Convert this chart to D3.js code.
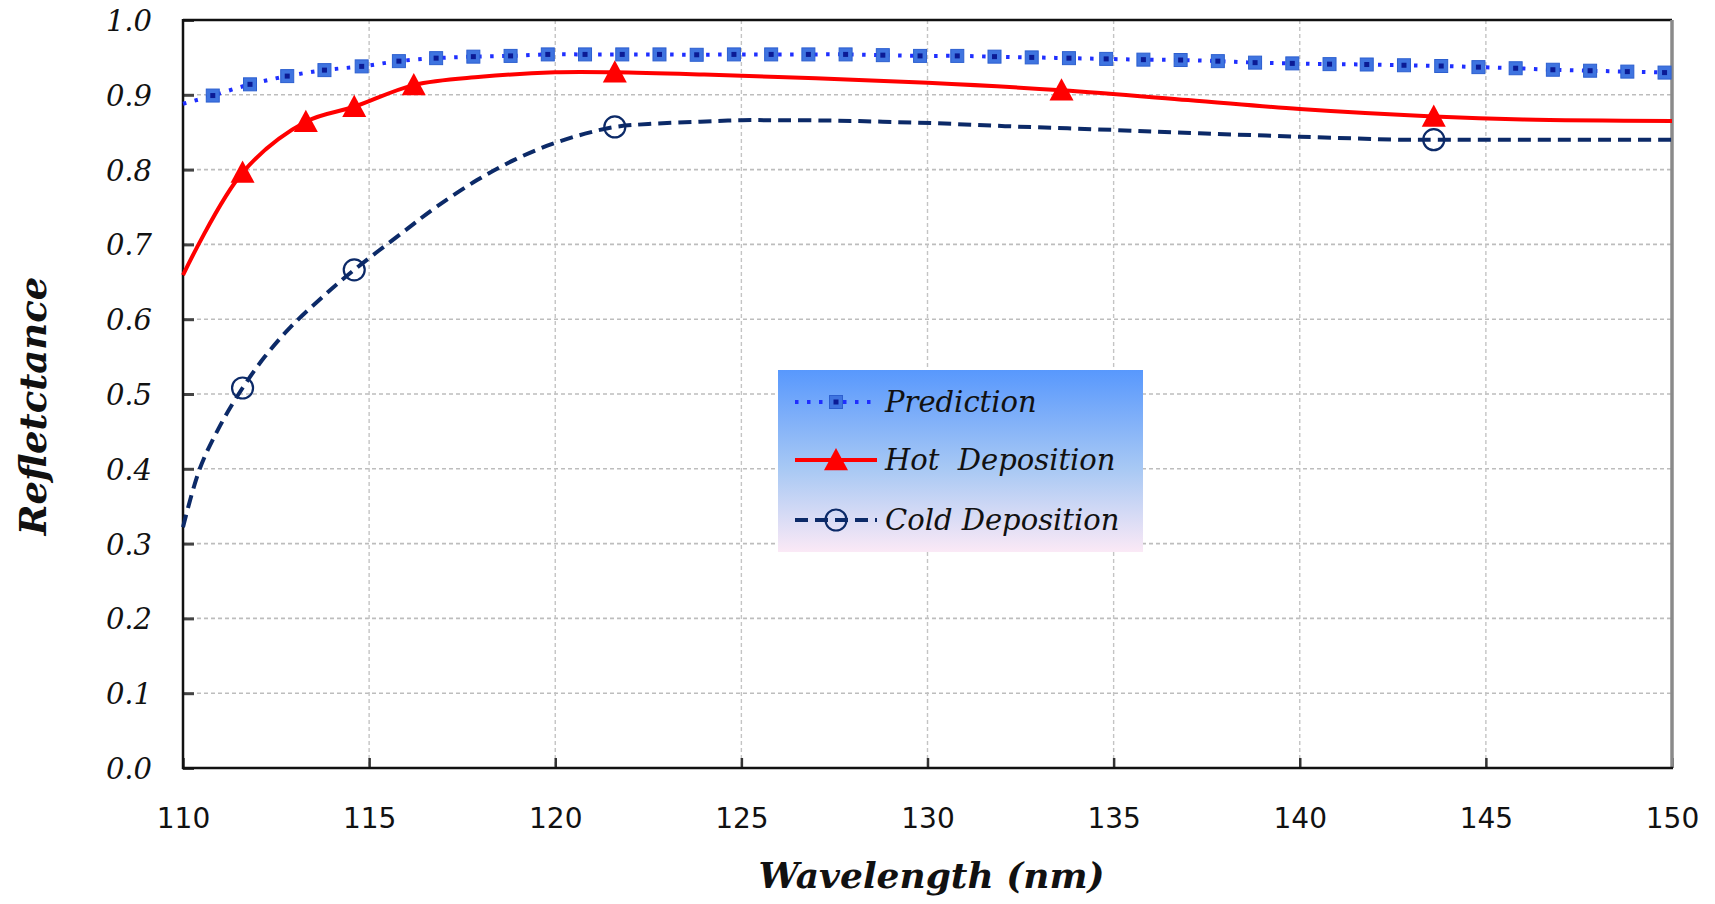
<!DOCTYPE html>
<html>
<head>
<meta charset="utf-8">
<script src="https://cdn.jsdelivr.net/npm/d3@7"></script>
<style>
  html, body { margin: 0; padding: 0; background: #fff; }
  svg { display: block; }
  .ytick text { font-family: "DejaVu Serif", serif; font-style: italic; font-size: 29px; fill: #111; }
  .xtick text { font-family: "DejaVu Sans", sans-serif; font-size: 28px; fill: #111; }
  .title { font-family: "DejaVu Serif", serif; font-style: italic; font-weight: bold; fill: #111; }
  .legend text { font-family: "DejaVu Serif", serif; font-style: italic; font-size: 29px; fill: #111; white-space: pre; }
</style>
</head>
<body>
<svg id="chart" width="1715" height="904"></svg>
<script>
// Axis ticks
const xTicks = [110, 115, 120, 125, 130, 135, 140, 145, 150];
const yTicks = [0.0, 0.1, 0.2, 0.3, 0.4, 0.5, 0.6, 0.7, 0.8, 0.9, 1.0];

// Prediction: curve samples (with end points) and the plotted markers
const predLineWl = [110.0, 110.8, 111.8, 112.8, 113.8, 114.8, 115.8, 116.8, 117.8, 118.8, 119.8,
  120.8, 121.8, 122.8, 123.8, 124.8, 125.8, 126.8, 127.8, 128.8, 129.8,
  130.8, 131.8, 132.8, 133.8, 134.8, 135.8, 136.8, 137.8, 138.8, 139.8,
  140.8, 141.8, 142.8, 143.8, 144.8, 145.8, 146.8, 147.8, 148.8, 149.8, 150.0];
const predLineR = [0.888, 0.899, 0.914, 0.925, 0.933, 0.938, 0.945, 0.949, 0.951, 0.952, 0.954,
  0.954, 0.954, 0.954, 0.9535, 0.954, 0.954, 0.954, 0.954, 0.953, 0.952,
  0.952, 0.951, 0.950, 0.949, 0.948, 0.947, 0.9465, 0.945, 0.943, 0.942,
  0.941, 0.9405, 0.9395, 0.9385, 0.937, 0.9355, 0.9335, 0.9322, 0.931, 0.9297, 0.929];
const predMarkWl = [110.8, 111.8, 112.8, 113.8, 114.8, 115.8, 116.8, 117.8, 118.8, 119.8,
  120.8, 121.8, 122.8, 123.8, 124.8, 125.8, 126.8, 127.8, 128.8, 129.8,
  130.8, 131.8, 132.8, 133.8, 134.8, 135.8, 136.8, 137.8, 138.8, 139.8,
  140.8, 141.8, 142.8, 143.8, 144.8, 145.8, 146.8, 147.8, 148.8, 149.8];
const predMarkR = [0.899, 0.914, 0.925, 0.933, 0.938, 0.945, 0.949, 0.951, 0.952, 0.954,
  0.954, 0.954, 0.954, 0.9535, 0.954, 0.954, 0.954, 0.954, 0.953, 0.952,
  0.952, 0.951, 0.950, 0.949, 0.948, 0.947, 0.9465, 0.945, 0.943, 0.942,
  0.941, 0.9405, 0.9395, 0.9385, 0.937, 0.9355, 0.9335, 0.9322, 0.931, 0.9297];

// Hot deposition
const hotLineWl = [110.0, 111.6, 113.3, 114.6, 116.2, 118.0, 120.0, 121.6, 124.0, 127.0, 130.0, 133.6, 137.0, 140.0, 143.6, 146.0, 150.0];
const hotLineR  = [0.659, 0.796, 0.864, 0.884, 0.913, 0.924, 0.930, 0.930, 0.927, 0.922, 0.916, 0.906, 0.893, 0.881, 0.871, 0.867, 0.865];
const hotMarkWl = [111.6, 113.3, 114.6, 116.2, 121.6, 133.6, 143.6];
const hotMarkR  = [0.796, 0.864, 0.884, 0.913, 0.930, 0.906, 0.871];

// Cold deposition
const coldLineWl = [110.0, 110.45, 111.0, 111.6, 112.2, 112.9, 113.8, 114.6, 115.9, 116.8, 117.9, 118.9, 119.9, 120.8, 121.6,
  122.5, 123.9, 125.0, 126.1, 127.5, 128.8, 130.2, 132.4, 135.0, 137.3, 140.0, 142.7, 143.6, 146.0, 150.0];
const coldLineR  = [0.322, 0.400, 0.458, 0.508, 0.550, 0.590, 0.632, 0.666, 0.716, 0.750, 0.786, 0.813, 0.834, 0.848, 0.857,
  0.861, 0.864, 0.866, 0.866, 0.8655, 0.864, 0.862, 0.8575, 0.853, 0.8485, 0.844, 0.840, 0.840, 0.840, 0.840];
const coldMarkWl = [111.6, 114.6, 121.6, 143.6];
const coldMarkR  = [0.508, 0.666, 0.857, 0.840];

const seriesNames = ["Prediction", "Hot  Deposition", "Cold Deposition"];

const svg = d3.select("#chart");
const plot = { left: 183, right: 1672, top: 20, bottom: 768 };

const x = d3.scaleLinear().domain([110, 150]).range([plot.left, plot.right]);
const y = d3.scaleLinear().domain([0, 1]).range([plot.bottom, plot.top]);

const colors = { pred: "#1f2fff", predMark: "#3f74e0", hot: "#ff0000", cold: "#0c2a68" };

// Grid
const grid = svg.append("g");
grid.selectAll("line.h").data(yTicks.filter(v => v > 0 && v < 1)).join("line")
  .attr("x1", plot.left).attr("x2", plot.right)
  .attr("y1", d => y(d)).attr("y2", d => y(d))
  .attr("stroke", "#bdbdbd").attr("stroke-width", 1.6).attr("stroke-dasharray", "4 3");
grid.selectAll("line.v").data(xTicks.filter(v => v > 110 && v < 150)).join("line")
  .attr("y1", plot.top).attr("y2", plot.bottom)
  .attr("x1", d => x(d)).attr("x2", d => x(d))
  .attr("stroke", "#c4c4c4").attr("stroke-width", 1.4).attr("stroke-dasharray", "4 3");

// Axes
const yAxis = d3.axisLeft(y).tickValues(yTicks).tickFormat(d3.format(".1f")).tickSizeInner(-11).tickSizeOuter(0).tickPadding(31);
const gy = svg.append("g").attr("class", "ytick").attr("transform", `translate(${plot.left},0)`).call(yAxis);
gy.select(".domain").remove();
gy.selectAll(".tick line").attr("stroke", "#444").attr("stroke-width", 3);
gy.selectAll(".tick text").attr("dy", "0.36em");

const xAxis = d3.axisBottom(x).tickValues(xTicks).tickFormat(d3.format("d")).tickSizeInner(-10).tickSizeOuter(0).tickPadding(40);
const gx = svg.append("g").attr("class", "xtick").attr("transform", `translate(0,${plot.bottom})`).call(xAxis);
gx.select(".domain").remove();
gx.selectAll(".tick line").attr("stroke", "#333").attr("stroke-width", 2.5);

// Frame
svg.append("line").attr("x1", plot.left).attr("x2", plot.right).attr("y1", plot.top).attr("y2", plot.top).attr("stroke", "#111").attr("stroke-width", 2.5);
svg.append("line").attr("x1", plot.right).attr("x2", plot.right).attr("y1", plot.top).attr("y2", plot.bottom).attr("stroke", "#8a8a8a").attr("stroke-width", 3.5);
svg.append("line").attr("x1", plot.left).attr("x2", plot.left).attr("y1", plot.top - 1).attr("y2", plot.bottom + 1).attr("stroke", "#111").attr("stroke-width", 2.5);
svg.append("line").attr("x1", plot.left - 1).attr("x2", plot.right + 1).attr("y1", plot.bottom).attr("y2", plot.bottom).attr("stroke", "#111").attr("stroke-width", 2.5);

// Curves
const line = d3.line().x(d => x(d[0])).y(d => y(d[1])).curve(d3.curveCatmullRom.alpha(0.5));
const zip = (a, b) => a.map((v, i) => [v, b[i]]);

svg.append("path").datum(zip(coldLineWl, coldLineR)).attr("d", line)
  .attr("fill", "none").attr("stroke", colors.cold).attr("stroke-width", 4).attr("stroke-dasharray", "13 7");
svg.append("path").datum(zip(hotLineWl, hotLineR)).attr("d", line)
  .attr("fill", "none").attr("stroke", colors.hot).attr("stroke-width", 4);
svg.append("path").datum(zip(predLineWl, predLineR)).attr("d", line)
  .attr("fill", "none").attr("stroke", colors.pred).attr("stroke-width", 4).attr("stroke-dasharray", "3.5 8.5");

// Marker drawers
function squareMark(g, cx, cy) {
  g.append("rect").attr("x", cx - 6.5).attr("y", cy - 6.5).attr("width", 13).attr("height", 13)
    .attr("fill", colors.predMark).attr("stroke", "#2c5fd0").attr("stroke-width", 1);
  g.append("rect").attr("x", cx - 2.5).attr("y", cy - 2.5).attr("width", 5).attr("height", 5).attr("fill", "#0b1b95");
}
function triMark(g, cx, cy) {
  const s = 12;
  g.append("path").attr("d", `M${cx},${cy - s}L${cx + s},${cy + s * 0.85}L${cx - s},${cy + s * 0.85}Z`).attr("fill", colors.hot);
}
function circMark(g, cx, cy) {
  g.append("circle").attr("cx", cx).attr("cy", cy).attr("r", 10.5).attr("fill", "none")
    .attr("stroke", colors.cold).attr("stroke-width", 2.2);
}

const marks = svg.append("g");
coldMarkWl.forEach((w, i) => circMark(marks, x(w), y(coldMarkR[i])));
hotMarkWl.forEach((w, i) => triMark(marks, x(w), y(hotMarkR[i])));
predMarkWl.forEach((w, i) => squareMark(marks, x(w), y(predMarkR[i])));

// Axis titles
svg.append("text").attr("class", "title").attr("x", (plot.left + plot.right) / 2 + 4).attr("y", 888)
  .attr("text-anchor", "middle").attr("font-size", 36).text("Wavelength (nm)");
svg.append("text").attr("class", "title").attr("transform", "translate(46,406) rotate(-90)")
  .attr("text-anchor", "middle").attr("font-size", 37).text("Refletctance");

// Legend
const defs = svg.append("defs");
const grad = defs.append("linearGradient").attr("id", "legendFill").attr("x1", 0).attr("y1", 0).attr("x2", 0).attr("y2", 1);
grad.append("stop").attr("offset", "0%").attr("stop-color", "#5898fd");
grad.append("stop").attr("offset", "55%").attr("stop-color", "#a9c9f4");
grad.append("stop").attr("offset", "100%").attr("stop-color", "#fbe9f6");

const lg = svg.append("g").attr("class", "legend");
lg.append("rect").attr("x", 778).attr("y", 370).attr("width", 365).attr("height", 182).attr("fill", "url(#legendFill)");

const rowY = [402, 460, 520];
const sx1 = 795, sx2 = 877, smid = (sx1 + sx2) / 2;
lg.append("line").attr("x1", sx1).attr("x2", sx2).attr("y1", rowY[0]).attr("y2", rowY[0])
  .attr("stroke", colors.pred).attr("stroke-width", 4).attr("stroke-dasharray", "3.5 8.5");
squareMark(lg, smid, rowY[0]);
lg.append("line").attr("x1", sx1).attr("x2", sx2).attr("y1", rowY[1]).attr("y2", rowY[1])
  .attr("stroke", colors.hot).attr("stroke-width", 4);
triMark(lg, smid, rowY[1]);
lg.append("line").attr("x1", sx1).attr("x2", sx2).attr("y1", rowY[2]).attr("y2", rowY[2])
  .attr("stroke", colors.cold).attr("stroke-width", 4).attr("stroke-dasharray", "13 7");
circMark(lg, smid, rowY[2]);

lg.selectAll("text").data(seriesNames).join("text")
  .attr("x", 885).attr("y", (d, i) => rowY[i] + 10)
  .attr("xml:space", "preserve")
  .text(d => d);
</script>
</body>
</html>
